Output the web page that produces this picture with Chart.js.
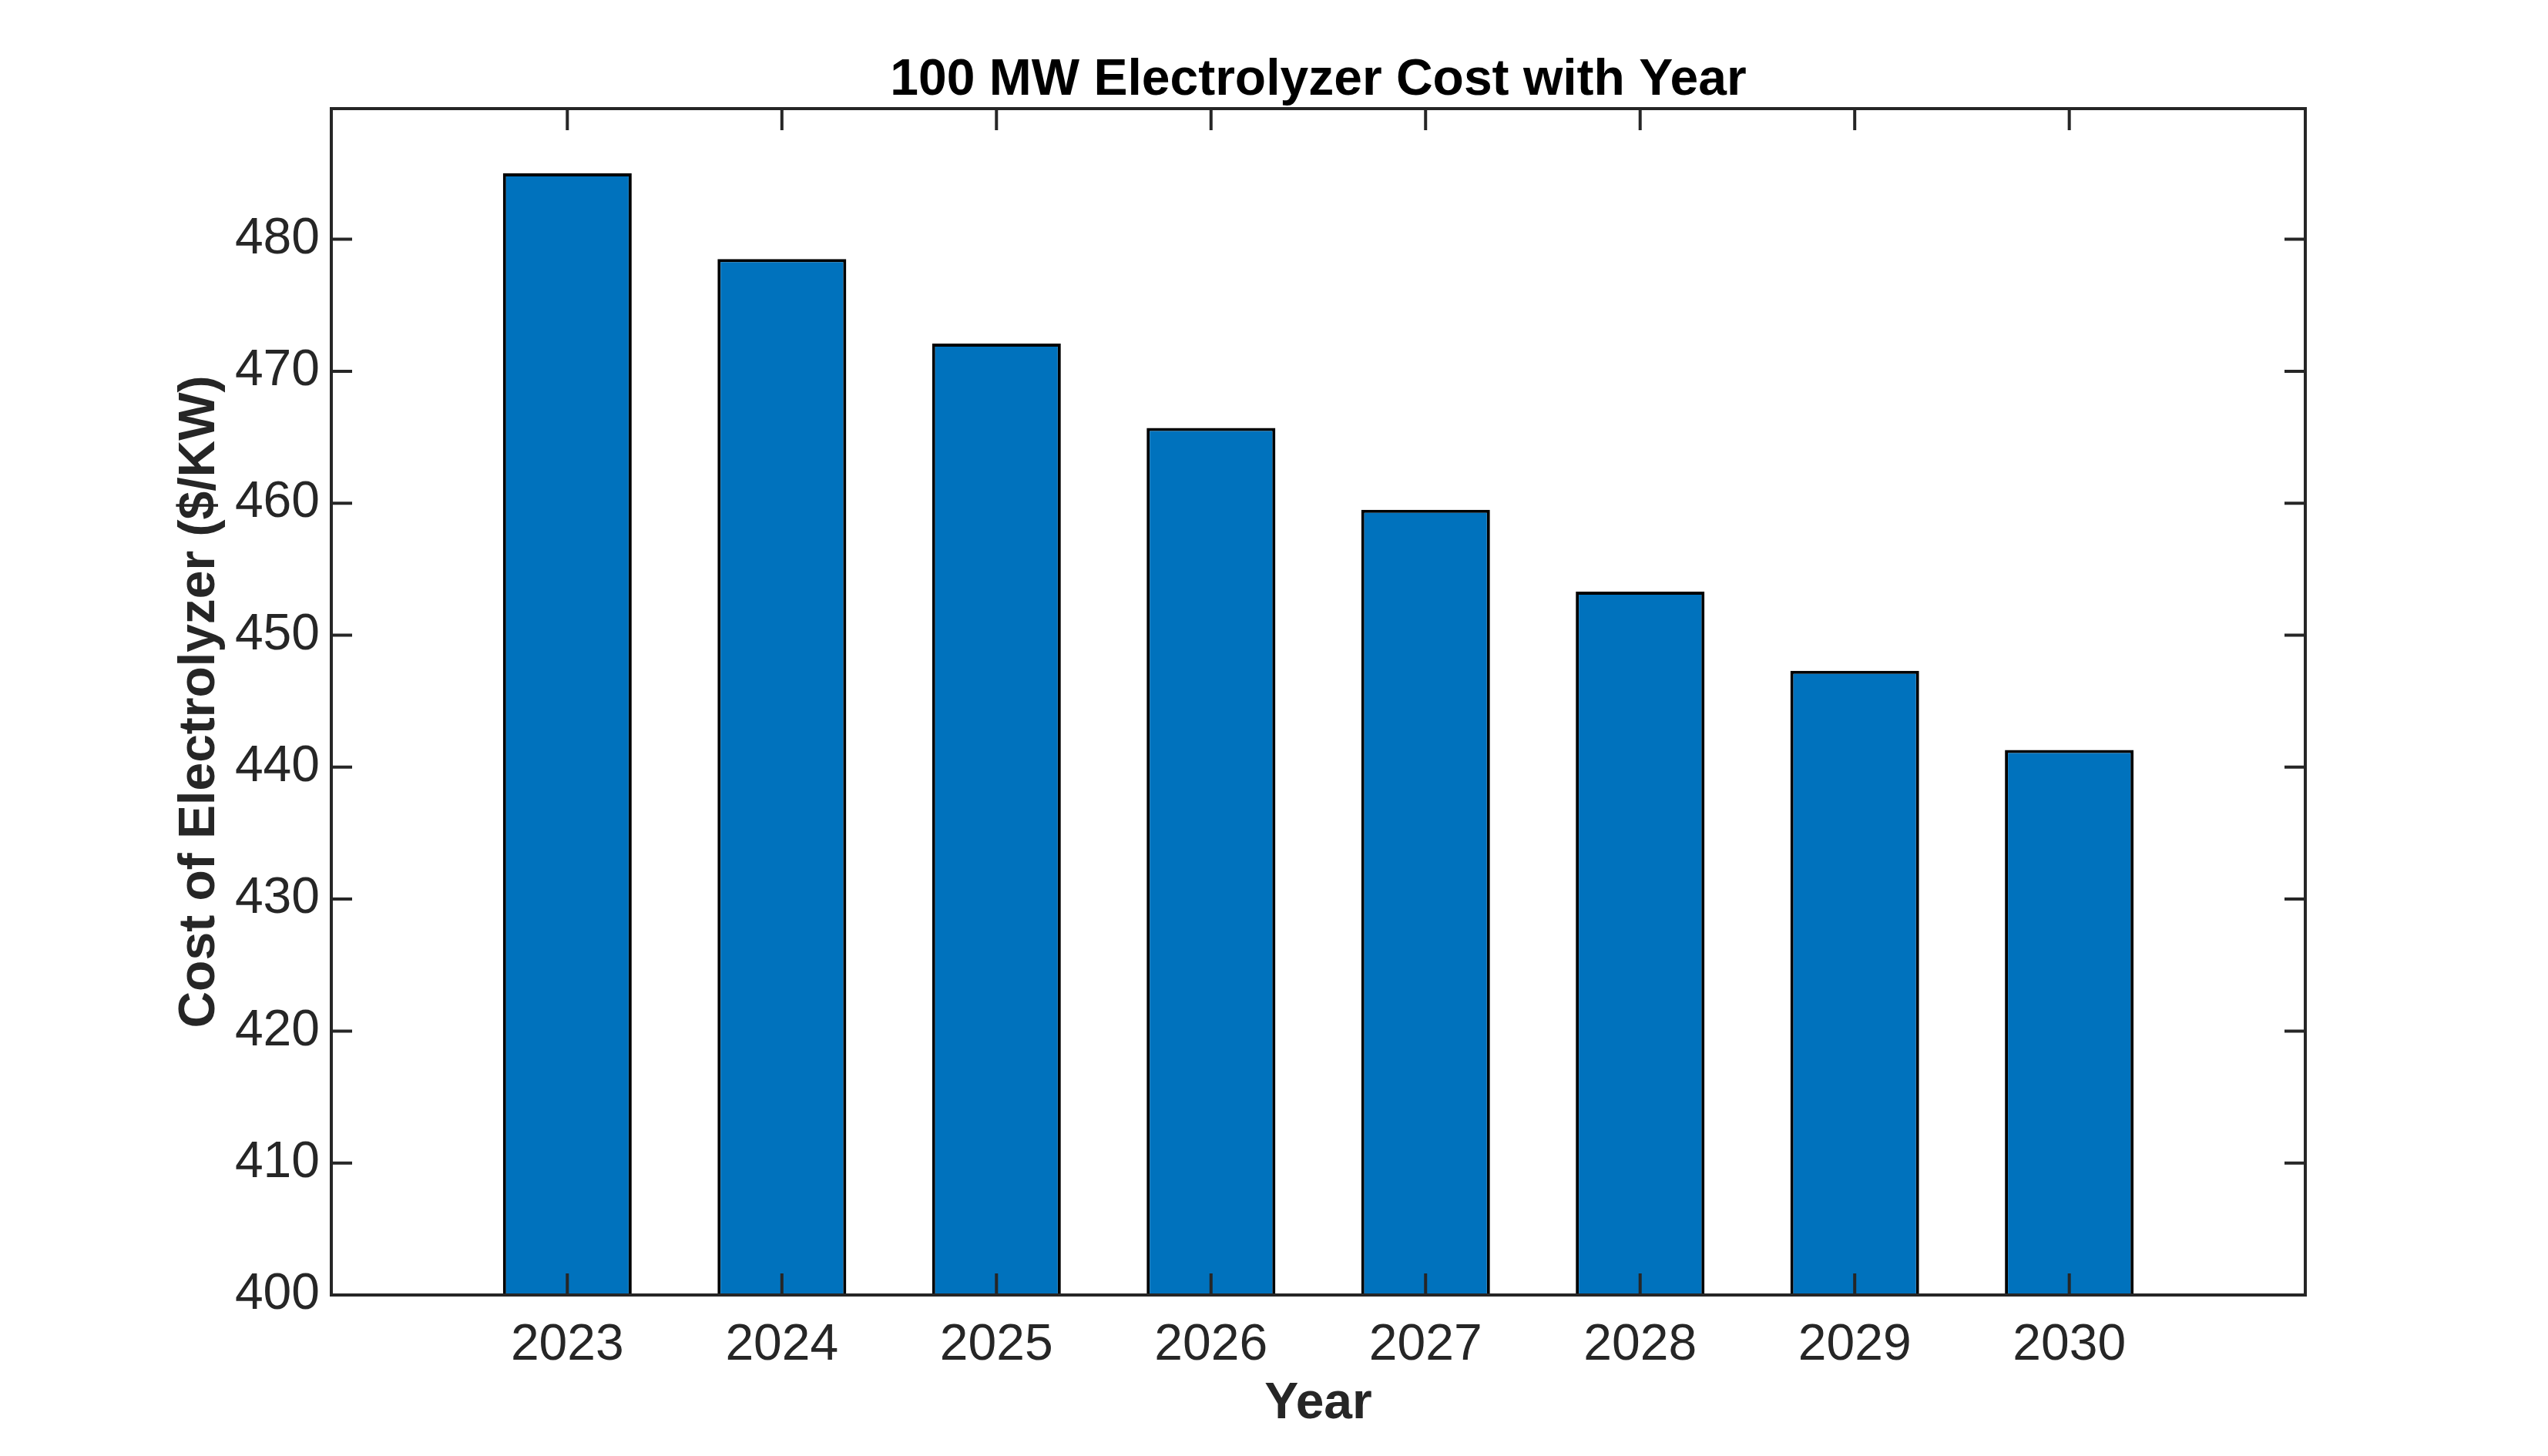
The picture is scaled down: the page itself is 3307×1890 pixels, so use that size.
<!DOCTYPE html>
<html>
<head>
<meta charset="utf-8">
<title>100 MW Electrolyzer Cost with Year</title>
<script src="https://cdn.jsdelivr.net/npm/chart.js@4.4.0/dist/chart.umd.min.js"></script>
<style>
  html, body { margin: 0; padding: 0; background: #fff; overflow: hidden; }
  #chart { display: block; }
</style>
</head>
<body>
<canvas id="chart" width="3307" height="1890"></canvas>
<script>
// values
const years = [2023, 2024, 2025, 2026, 2027, 2028, 2029, 2030];
const costs = [485.0, 478.5, 472.1, 465.7, 459.5, 453.3, 447.3, 441.3];
const yTicks = [400, 410, 420, 430, 440, 450, 460, 470, 480];

const titleText = '100 MW Electrolyzer Cost with Year';
const xTitle = 'Year';
const yTitle = 'Cost of Electrolyzer ($/KW)';

const axisColor = '#262626';
const fontFamily = '"Liberation Sans", Arial, Helvetica, sans-serif';

// box round the plot with inward ticks on all four sides, plus the title
const boxPlugin = {
    id: 'box',
    afterDraw(chart) {
        const { ctx, chartArea: a, scales } = chart;
        ctx.save();
        ctx.strokeStyle = axisColor;
        ctx.lineWidth = 4;
        ctx.strokeRect(a.left, a.top, a.right - a.left, a.bottom - a.top);
        ctx.beginPath();
        scales.x.ticks.forEach(t => {
            const px = scales.x.getPixelForValue(t.value);
            ctx.moveTo(px, a.bottom); ctx.lineTo(px, a.bottom - 28);
            ctx.moveTo(px, a.top); ctx.lineTo(px, a.top + 28);
        });
        scales.y.ticks.forEach(t => {
            const py = scales.y.getPixelForValue(t.value);
            ctx.moveTo(a.left, py); ctx.lineTo(a.left + 27, py);
            ctx.moveTo(a.right, py); ctx.lineTo(a.right - 27, py);
        });
        ctx.stroke();

        ctx.fillStyle = '#000';
        ctx.font = 'bold 66px ' + fontFamily;
        ctx.textAlign = 'center';
        ctx.textBaseline = 'middle';
        ctx.fillText(titleText, (a.left + a.right) / 2, a.top - 36);
        ctx.restore();
    }
};

new Chart(document.getElementById('chart'), {
    type: 'bar',
    data: {
        datasets: [{
            data: years.map((yr, i) => ({ x: yr, y: costs[i] })),
            backgroundColor: '#0072BD',
            borderColor: '#000000',
            borderWidth: 4,
            base: 400,
            barPercentage: 0.6,
            categoryPercentage: 1.0
        }]
    },
    options: {
        responsive: false,
        animation: false,
        devicePixelRatio: 1,
        layout: { padding: { top: 141, right: 315, bottom: 0, left: 0 } },
        plugins: {
            legend: { display: false },
            tooltip: { enabled: false }
        },
        scales: {
            x: {
                type: 'linear',
                offset: false,
                min: 2021.9,
                max: 2031.1,
                afterBuildTicks: s => { s.ticks = years.map(v => ({ value: v })); },
                afterFit: s => { s.height = 209; },
                grid: { display: false, drawTicks: false },
                border: { display: false },
                ticks: {
                    color: axisColor,
                    font: { family: fontFamily, size: 66 },
                    padding: 26,
                    maxRotation: 0,
                    autoSkip: false,
                    callback: v => String(v)
                },
                title: {
                    display: true,
                    text: xTitle,
                    color: axisColor,
                    font: { family: fontFamily, size: 66, weight: 'bold' },
                    padding: { top: 0, bottom: 28 }
                }
            },
            y: {
                min: 400,
                max: 489.9,
                afterBuildTicks: s => { s.ticks = yTicks.map(v => ({ value: v })); },
                afterFit: s => { s.width = 430; },
                grid: { display: false, drawTicks: false },
                border: { display: false },
                ticks: {
                    color: axisColor,
                    font: { family: fontFamily, size: 66 },
                    padding: 15,
                    callback: v => String(v)
                },
                title: {
                    display: true,
                    text: yTitle,
                    color: axisColor,
                    font: { family: fontFamily, size: 66, weight: 'bold' },
                    padding: { top: 220, bottom: 0 }
                }
            }
        }
    },
    plugins: [boxPlugin]
});
</script>
</body>
</html>
